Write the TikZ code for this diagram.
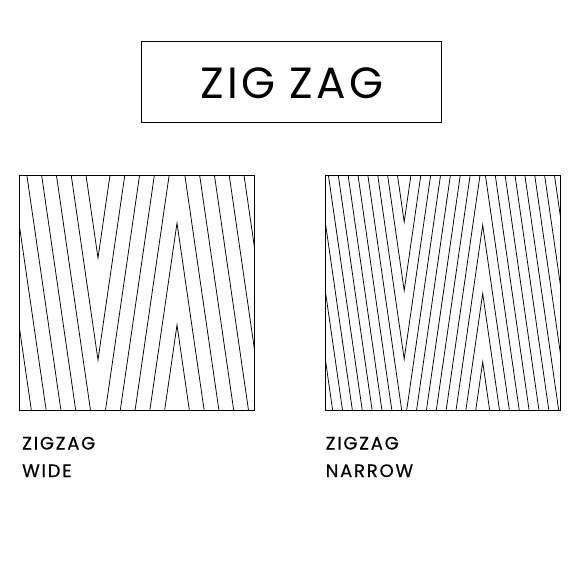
\documentclass[tikz,border=0pt]{standalone}
\usepackage{fontspec}
\setmainfont{Poppins}
\newfontfamily\titlefont{Poppins}[LetterSpace=7]
\newfontfamily\labelfont{Poppins}[LetterSpace=10,FakeBold=0.6]
\tikzset{
  frame/.style={draw=black, line width=1pt, inner sep=0pt, fill=none},
  zz/.style={draw=black, line width=0.75pt, line join=miter},
  lbl/.style={anchor=base west, inner sep=0pt, font=\labelfont\fontsize{18}{20}\selectfont},
}
\begin{document}
\begin{tikzpicture}[x=1pt,y=-1pt]
\useasboundingbox[fill=white] (0,0) rectangle (579,579);
% title
\node[frame, minimum width=300pt, minimum height=81pt] (title) at (291.7,82.2) {};
\node[inner sep=0pt, font=\titlefont\fontsize{43.7}{50}\selectfont] (titletext) at (292,83) {ZIG ZAG};
% wide pattern
\begin{scope}
\clip (19,175) rectangle (254.5,410);
\foreach \k in {-9,...,3} {
  \pgfmathsetmacro{\ya}{223+102*\k}
  \pgfmathsetmacro{\yb}{223+102*\k+545}
  \draw[zz] (-60,\yb) -- (19,\ya) -- (98,\yb) -- (177,\ya) -- (256,\yb) -- (335,\ya);
}
\end{scope}
\node[frame, minimum width=235.5pt, minimum height=235pt] (wide) at (136.75,292.5) {};
% narrow pattern
\begin{scope}
\clip (325.7,175) rectangle (560.7,410);
\foreach \k in {-13,...,4} {
  \pgfmathsetmacro{\ya}{225+68.5*\k}
  \pgfmathsetmacro{\yb}{225+68.5*\k+545}
  \draw[zz] (247.2,\yb) -- (325.7,\ya) -- (404.2,\yb) -- (482.7,\ya) -- (561.2,\yb) -- (639.7,\ya);
}
\end{scope}
\node[frame, minimum width=235pt, minimum height=235pt] (narrow) at (443.2,292.5) {};
% labels
\node[lbl] (wideA) at (22,449.5) {ZIGZAG};
\node[lbl] (wideB) at (22,477) {WIDE};
\node[lbl] (narrowA) at (325.5,449.5) {ZIGZAG};
\node[lbl] (narrowB) at (325.5,477) {NARROW};
\end{tikzpicture}
\end{document}
